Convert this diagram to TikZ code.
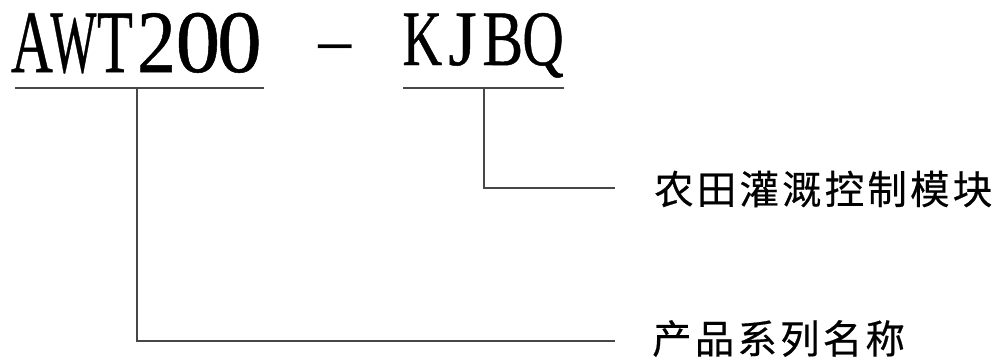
\documentclass[tikz,border=0pt]{standalone}
\usepackage{fontspec}
\setmainfont{Liberation Serif}
\newfontfamily\codefont[FakeBold=0.6]{Liberation Serif}
\newfontfamily\cjk[LetterSpace=8,FakeBold=0.5]{Noto Sans CJK SC}
\usepackage{graphicx}
\newcommand{\cellc}[3]{\makebox[#1]{\scalebox{#2}[1]{#3}}}
\begin{document}
\begin{tikzpicture}[x=1pt,y=-1pt]
\useasboundingbox (0,0) rectangle (1005,360);
\tikzset{
  conn/.style={draw=black!72, line width=2.6pt},
  code/.style={inner sep=0pt, anchor=base west},
  lbl/.style={inner sep=0pt, anchor=west, font=\cjk\fontsize{39.5}{39.5}\selectfont}
}
\node[code, font=\codefont\fontsize{89}{89}\selectfont] (awt) at (11,72)
  {\cellc{41.5pt}{0.65}{A}\cellc{41.5pt}{0.55}{W}\cellc{41.5pt}{0.66}{T}\cellc{41.5pt}{0.87}{2}\cellc{41.5pt}{1.0}{0}\cellc{41.5pt}{1.0}{0}};
\node[inner sep=0pt, anchor=base, font=\fontsize{50}{50}\selectfont] (dash) at (335,58) {\scalebox{2.6}[1]{-}};
\node[code, font=\codefont\fontsize{78.5}{78.5}\selectfont] (kjbq) at (402,65)
  {\cellc{40.25pt}{0.7}{K}\cellc{40.25pt}{0.93}{J}\cellc{40.25pt}{0.78}{B}\cellc{40.25pt}{0.73}{Q}};
\node[lbl] (mod) at (654,189) {农田灌溉控制模块};
\node[lbl] (series) at (652,338.5) {产品系列名称};
% underline coordinates
\coordinate (u1l) at (15,88);
\coordinate (u1r) at (264,88);
\coordinate (u1m) at (137,88);
\coordinate (u2l) at (403,88);
\coordinate (u2r) at (564,88);
\coordinate (u2m) at (484,88);
\coordinate (e1) at (615,188);
\coordinate (e2) at (615,341);
\draw[conn] (u1l) -- (u1r);
\draw[conn] (u2l) -- (u2r);
\draw[conn] (u2m) |- (e1);
\draw[conn] (u1m) |- (e2);
\end{tikzpicture}
\end{document}
